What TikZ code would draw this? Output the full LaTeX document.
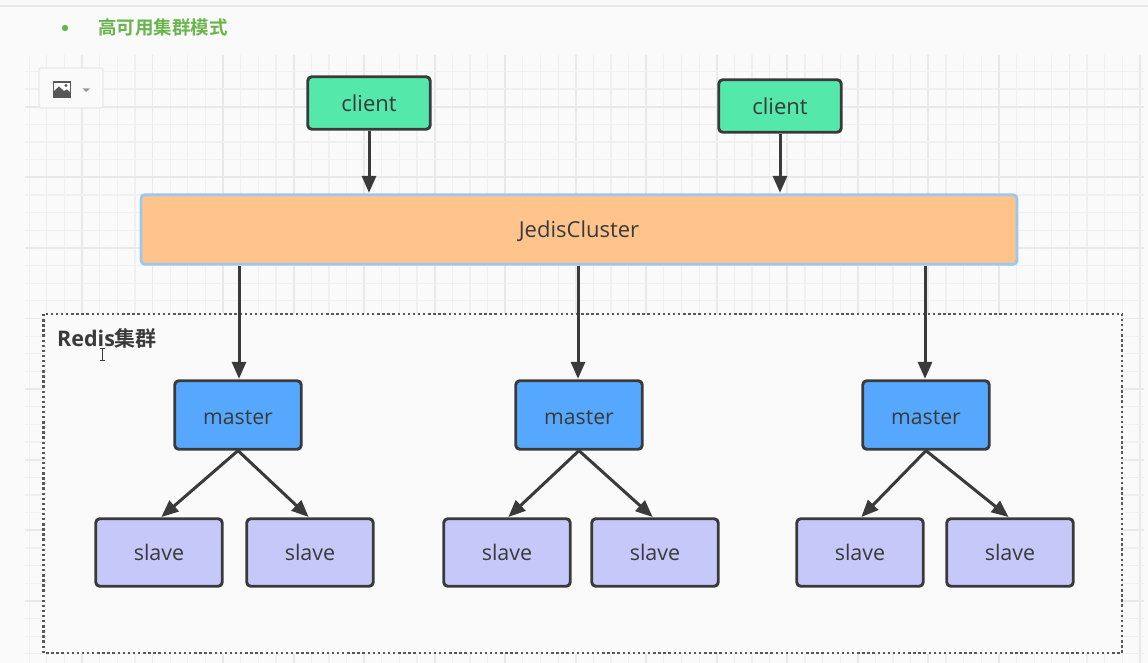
\documentclass[tikz,border=0pt]{standalone}
\usepackage{fontspec}
\setmainfont{Open Sans}
\newfontfamily\cjkfont{Noto Sans CJK SC}[BoldFont={Noto Sans CJK SC Bold}]
\usetikzlibrary{arrows.meta}
\definecolor{pagebg}{HTML}{FAFAFA}
\definecolor{gridminor}{HTML}{F0F0F0}
\definecolor{gridmajor}{HTML}{E9E9E9}
\definecolor{ink}{HTML}{3A3A3A}
\definecolor{clientfill}{HTML}{54E8AB}
\definecolor{jedisfill}{HTML}{FFC48C}
\definecolor{jedisline}{HTML}{9CC7EE}
\definecolor{masterfill}{HTML}{55A8FD}
\definecolor{slavefill}{HTML}{C5C8F8}
\definecolor{titlegreen}{HTML}{6AB44C}
\tikzset{
  box/.style={draw=ink,line width=2.9pt,rounded corners=4pt,inner sep=0pt,outer sep=1.4pt,text=ink,text depth=0pt,font=\fontsize{22}{26}\selectfont},
  clientbox/.style={box,fill=clientfill,minimum width=122.5pt,minimum height=52.5pt},
  masterbox/.style={box,fill=masterfill,minimum width=126.5pt,minimum height=68.5pt,text height=19pt,font=\fontsize{21.2}{26}\selectfont},
  slavebox/.style={box,fill=slavefill,minimum width=126.5pt,minimum height=67.5pt,font=\fontsize{21.5}{26}\selectfont},
  jedisbox/.style={box,draw=jedisline,fill=jedisfill,minimum width=876pt,minimum height=69.5pt},
  link/.style={draw=ink,line width=3pt,-{Triangle[length=17pt,width=14pt]},shorten >=0.5pt},
  gridfine/.style={gridminor,line width=1.2pt},
  gridbold/.style={gridmajor,line width=1.7pt}
}
\begin{document}
\begin{tikzpicture}[x=1pt,y=-1pt]
\useasboundingbox (0,0) rectangle (1148,663);
\fill[pagebg] (0,0) rectangle (1148,663);
\draw[gridmajor,line width=1.2pt] (0,6) -- (1148,6);
% grid
\foreach \i in {0,...,63}{
  \pgfmathsetmacro{\gx}{29.2+17.63*\i}
  \pgfmathtruncatemacro{\ism}{mod(\i,4)==3}
  \ifnum\ism=1 \draw[gridbold] (\gx,55) -- (\gx,663);
  \else \draw[gridfine] (\gx,55) -- (\gx,663); \fi
}
\foreach \i in {0,...,34}{
  \pgfmathsetmacro{\gy}{71.4+17.65*\i}
  \pgfmathtruncatemacro{\ism}{mod(\i,4)==2}
  \ifnum\ism=1 \draw[gridbold] (25,\gy) -- (1144,\gy);
  \else \draw[gridfine] (25,\gy) -- (1144,\gy); \fi
}
% title
\fill[titlegreen] (65,28) circle (3.2pt);
\node[anchor=west,inner sep=0pt,text=titlegreen,font=\cjkfont\bfseries\fontsize{18.5}{22}\selectfont] (title) at (98,27) {高可用集群模式};
% toolbar button
\draw[gridmajor,fill=pagebg,line width=1.2pt,rounded corners=2pt] (39,68) rectangle (103,108);
\draw[fill=white,draw=ink!85,line width=1.4pt] (53.5,82) rectangle (70.5,97);
\fill[ink!85] (54,96.5) -- (54,91) -- (59,86.5) -- (64,91) -- (67,89.5) -- (70,92) -- (70,96.5) -- cycle;
\fill[ink!85] (66,85.5) circle (1.6pt);
\fill[gray!80] (82.5,88.5) -- (90,88.5) -- (86.2,92) -- cycle;
% cluster frame
\draw[fill=pagebg,draw=ink!85,line width=2.6pt,dash pattern=on 2.4pt off 2.7pt] (43.5,314) rectangle (1122,653);
\node[anchor=west,inner sep=0pt,text=ink,font=\bfseries\fontsize{21.5}{25}\selectfont] (rlabel) at (57,338) {Redis{\cjkfont\bfseries\fontsize{21}{25}\selectfont 集群}};
% cursor
\draw[ink,line width=0.8pt] (102.5,349) -- (102.5,360) (100,348.5) -- (105,348.5) (100,360) -- (105,360);
% nodes
\node[clientbox] (c1) at (369,103) {client};
\node[clientbox] (c2) at (780,106) {client};
\node[jedisbox] (jc) at (579,229.5) {JedisCluster};
\node[masterbox] (m1) at (238,415) {master};
\node[masterbox] (m2) at (579,415) {master};
\node[masterbox] (m3) at (926,415) {master};
\node[slavebox] (s1) at (159,552.5) {slave};
\node[slavebox] (s2) at (310,552.5) {slave};
\node[slavebox] (s3) at (507,552.5) {slave};
\node[slavebox] (s4) at (655,552.5) {slave};
\node[slavebox] (s5) at (860,552.5) {slave};
\node[slavebox] (s6) at (1010,552.5) {slave};
% connectors
\draw[link] (c1) -- (c1 |- jc.north);
\draw[link] (c2) -- (c2 |- jc.north);
\draw[link] ([xshift=1pt]m1.north |- jc.south) -- ([xshift=1pt]m1.north);
\draw[link] ([xshift=-1pt]m2.north |- jc.south) -- ([xshift=-1pt]m2.north);
\draw[link] ([xshift=-1pt]m3.north |- jc.south) -- ([xshift=-1pt]m3.north);
\draw[link] (m1.south) -- ([xshift=2pt]s1.north);
\draw[link] (m1.south) -- ([xshift=-1pt]s2.north);
\draw[link] (m2.south) -- ([xshift=1pt]s3.north);
\draw[link] (m2.south) -- ([xshift=-2pt]s4.north);
\draw[link] (m3.south) -- ([xshift=1pt]s5.north);
\draw[link] (m3.south) -- ([xshift=-1pt]s6.north);
\end{tikzpicture}
\end{document}
